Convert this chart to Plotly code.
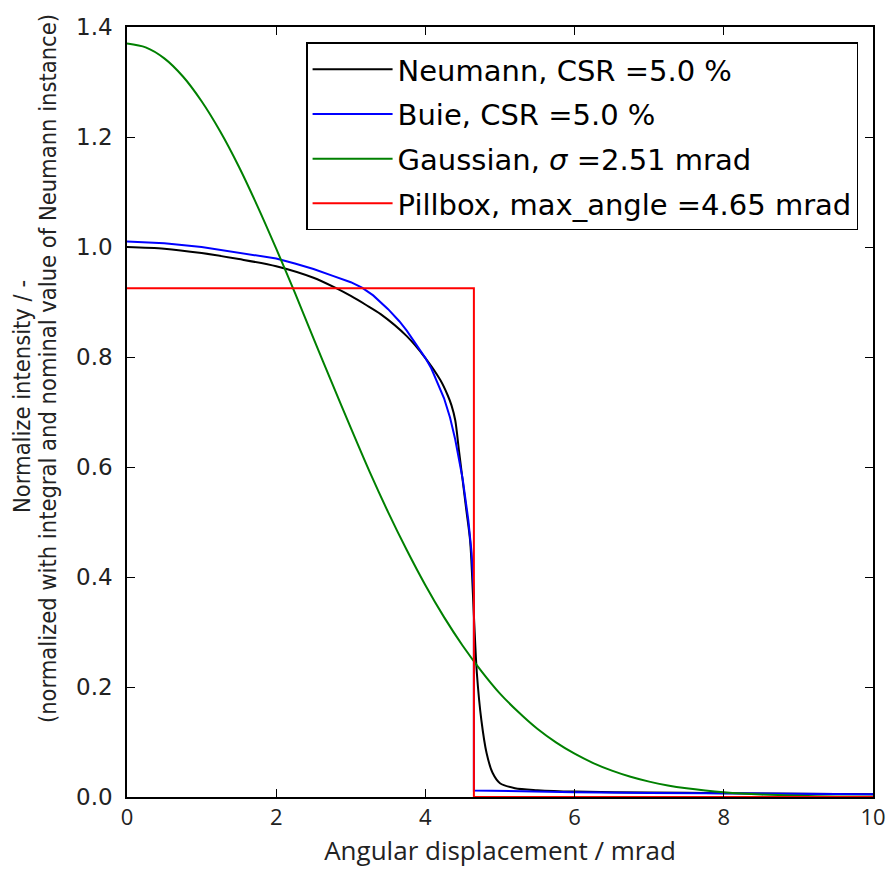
import plotly.graph_objects as go

# ---------------- data ----------------
neumann_x = [0.0, 0.5, 1.0, 1.5, 2.0, 2.5, 2.79, 3.0, 3.2, 3.4, 3.75, 4.0, 4.2, 4.3,
             4.35, 4.4, 4.45, 4.5, 4.55, 4.6, 4.65, 4.69, 4.75, 4.82, 4.9, 5.0, 5.2,
             5.5, 6.0, 7.0, 8.0, 9.0, 10.0]
neumann_y = [1.000, 0.997, 0.989, 0.978, 0.965, 0.944, 0.926, 0.911, 0.895, 0.878,
             0.838, 0.798, 0.758, 0.730, 0.712, 0.685, 0.630, 0.575, 0.520, 0.465,
             0.330, 0.225, 0.140, 0.080, 0.044, 0.025, 0.016, 0.0125, 0.0098, 0.0082,
             0.0070, 0.0060, 0.0052]

buie_x = [0.0, 0.5, 1.0, 1.5, 2.0, 2.25, 2.5, 2.75, 3.0, 3.15, 3.3, 3.5, 3.65, 3.75,
          3.9, 4.0, 4.08, 4.15, 4.25, 4.33, 4.4, 4.5, 4.575, 4.62, 4.65, 4.65, 5.0,
          6.0, 7.0, 8.0, 9.0, 10.0]
buie_y = [1.010, 1.007, 1.000, 0.990, 0.979, 0.970, 0.960, 0.948, 0.936, 0.926,
          0.912, 0.887, 0.865, 0.848, 0.818, 0.798, 0.779, 0.758, 0.725, 0.690,
          0.650, 0.578, 0.504, 0.443, 0.370, 0.0118, 0.0108, 0.0088, 0.0075, 0.0065,
          0.0057, 0.0050]

gauss_x = [0.0, 0.25, 0.5, 0.75, 1.0, 1.25, 1.5, 1.75, 2.0, 2.25, 2.5, 2.75, 3.0,
           3.25, 3.5, 3.75, 4.0, 4.25, 4.5, 4.75, 5.0, 5.25, 5.5, 5.75, 6.0, 6.25,
           6.5, 6.75, 7.0, 7.25, 7.5, 7.75, 8.0, 8.5, 9.0, 9.5, 10.0]
gauss_y = [1.370, 1.363, 1.343, 1.310, 1.265, 1.210, 1.146, 1.074, 0.997, 0.917,
           0.834, 0.752, 0.671, 0.592, 0.518, 0.449, 0.385, 0.327, 0.275, 0.229,
           0.188, 0.154, 0.124, 0.0993, 0.0787, 0.0617, 0.0479, 0.0368, 0.0280,
           0.0211, 0.0158, 0.0117, 0.0085, 0.0044, 0.0022, 0.0011, 0.0005]

pill_x = [0.0, 4.65, 4.65, 10.0]
pill_y = [0.925, 0.925, 0.0, 0.0]

labels = ["Neumann, CSR =5.0 %",
          "Buie, CSR =5.0 %",
          "Gaussian, <i>σ</i> =2.51 mrad",
          "Pillbox, max_angle =4.65 mrad"]
colors = ["#000000", "#0000ff", "#008000", "#ff0000"]
shapes = ["spline", "linear", "spline", "linear"]

x_ticks = [0, 2, 4, 6, 8, 10]
y_ticks = [0.0, 0.2, 0.4, 0.6, 0.8, 1.0, 1.2, 1.4]

x_title = "Angular displacement / mrad"
y_title_lines = ["Normalize intensity / -",
                 "(normalized with integral and nominal value of Neumann instance)"]

# ---------------- figure ----------------
fig = go.Figure()
series = [(neumann_x, neumann_y), (buie_x, buie_y), (gauss_x, gauss_y), (pill_x, pill_y)]
for i, ((xs, ys), lab, col, shp) in enumerate(zip(series, labels, colors, shapes)):
    fig.add_trace(go.Scatter(x=xs, y=ys, mode="lines", name=lab,
                             line=dict(color=col, width=2, shape=shp, smoothing=0.8),
                             legendgroup="g%d" % i))

axis_common = dict(showline=True, linecolor="black", linewidth=1.5, mirror="allticks",
                   ticks="inside", ticklen=8, tickwidth=1, tickcolor="black",
                   showgrid=False, zeroline=False, automargin=False)

fig.update_xaxes(range=[0, 10], tickvals=x_ticks, ticktext=[str(v) for v in x_ticks],
                 tickfont=dict(family="Open Sans", size=22, color="#222222"),
                 title=dict(text=x_title,
                            font=dict(family="Open Sans", size=26, color="#222222"),
                            standoff=12),
                 **axis_common)
fig.update_yaxes(range=[0, 1.4], tickvals=y_ticks, ticktext=["%.1f" % v for v in y_ticks],
                 tickfont=dict(family="DejaVu Sans", size=23, color="#222222"),
                 ticklabelstandoff=8,
                 **axis_common)

ytitle_font = dict(family="Liberation Sans Narrow, DejaVu Sans Condensed, Open Sans",
                   size=23.5, color="#222222")
fig.add_annotation(text=y_title_lines[0], xref="paper", yref="paper",
                   x=-0.1408, y=0.5208, xanchor="center", yanchor="middle",
                   textangle=-90, showarrow=False, font=ytitle_font)
fig.add_annotation(text=y_title_lines[1], xref="paper", yref="paper",
                   x=-0.1059, y=0.557, xanchor="center", yanchor="middle",
                   textangle=-90, showarrow=False, font=ytitle_font)

fig.update_layout(
    width=887, height=874,
    margin=dict(l=127, r=14, t=27, b=77),
    paper_bgcolor="white", plot_bgcolor="white",
    showlegend=True,
    legend=dict(x=0.98, y=0.98, xanchor="right", yanchor="top",
                bgcolor="white", bordercolor="black", borderwidth=1.5,
                font=dict(family="DejaVu Sans", size=29, color="black"),
                itemwidth=80, tracegroupgap=4),
)

fig.write_html("out.html", config={"displayModeBar": False},
               post_script="document.body.style.margin='0';")
